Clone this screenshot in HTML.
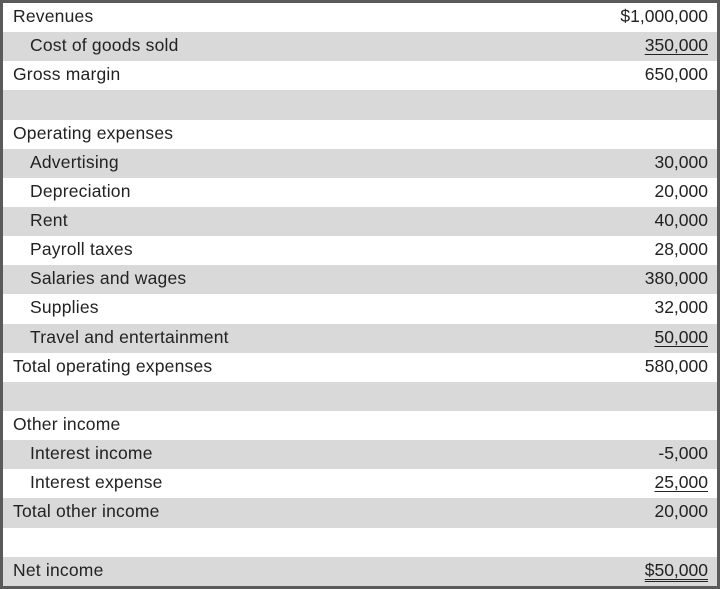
<!DOCTYPE html><html><head><style>
body{margin:0;background:#fff}
.w{position:absolute;left:0;top:0;width:714px;height:583px;border:3px solid #5a5a5a}
.r{height:29.15px;line-height:29px;font:17.5px "Liberation Sans",sans-serif;color:#222;position:relative;letter-spacing:0.2px}
.r span{top:3px}
.g{background:#d9d9d9}
.l{position:absolute;left:10px}.i{left:27px}
.v{position:absolute;right:9px;letter-spacing:0}
u{text-decoration:underline;text-underline-offset:3px}
.d{text-decoration:underline double;text-underline-offset:3px}
</style></head><body><div class="w">
<div class="r"><span class="l">Revenues</span><span class="v">$1,000,000</span></div>
<div class="r g"><span class="l i">Cost of goods sold</span><span class="v"><u>350,000</u></span></div>
<div class="r"><span class="l">Gross margin</span><span class="v">650,000</span></div>
<div class="r g"></div>
<div class="r"><span class="l">Operating expenses</span></div>
<div class="r g"><span class="l i">Advertising</span><span class="v">30,000</span></div>
<div class="r"><span class="l i">Depreciation</span><span class="v">20,000</span></div>
<div class="r g"><span class="l i">Rent</span><span class="v">40,000</span></div>
<div class="r"><span class="l i">Payroll taxes</span><span class="v">28,000</span></div>
<div class="r g"><span class="l i">Salaries and wages</span><span class="v">380,000</span></div>
<div class="r"><span class="l i">Supplies</span><span class="v">32,000</span></div>
<div class="r g"><span class="l i">Travel and entertainment</span><span class="v"><u>50,000</u></span></div>
<div class="r"><span class="l">Total operating expenses</span><span class="v">580,000</span></div>
<div class="r g"></div>
<div class="r"><span class="l">Other income</span></div>
<div class="r g"><span class="l i">Interest income</span><span class="v">-5,000</span></div>
<div class="r"><span class="l i">Interest expense</span><span class="v"><u>25,000</u></span></div>
<div class="r g"><span class="l">Total other income</span><span class="v">20,000</span></div>
<div class="r"></div>
<div class="r g"><span class="l">Net income</span><span class="v"><span class="d">$50,000</span></span></div>
</div></body></html>
